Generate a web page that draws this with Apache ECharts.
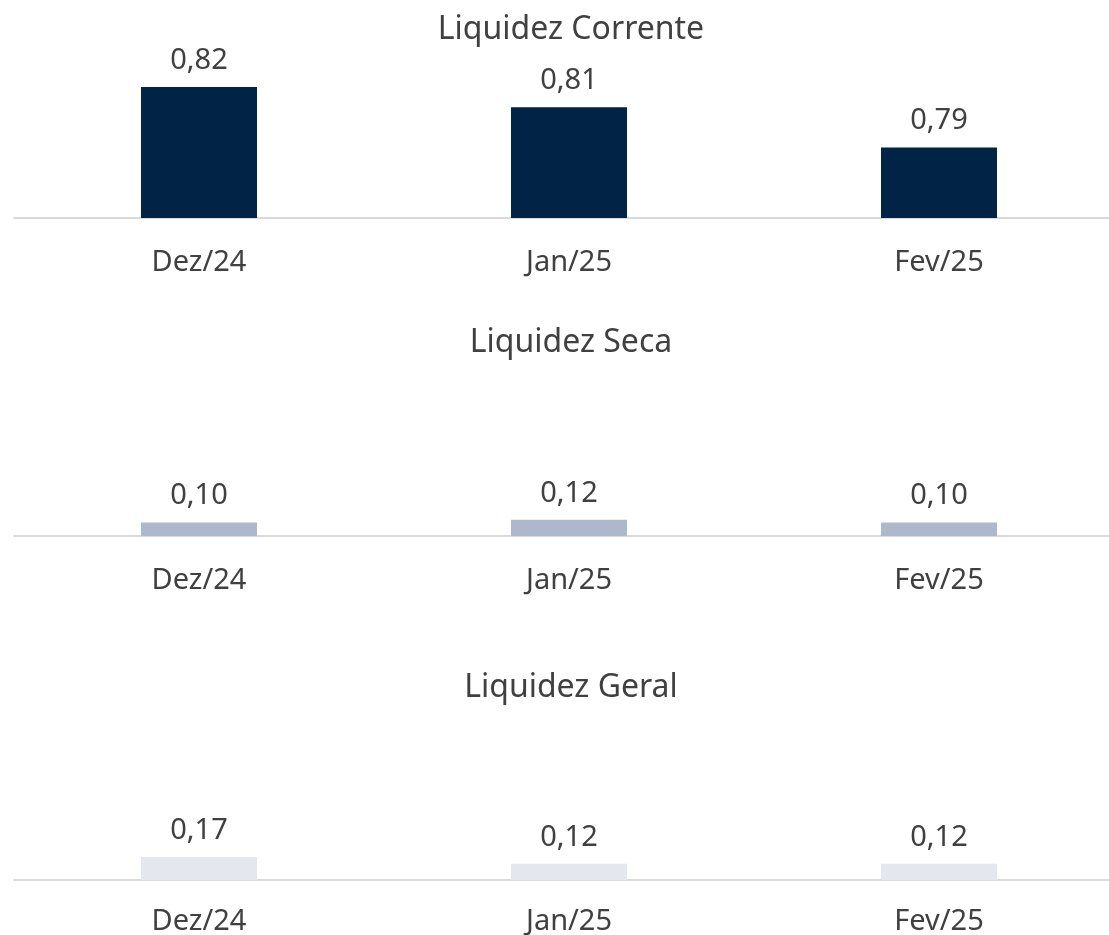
<!DOCTYPE html>
<html>
<head>
<meta charset="utf-8">
<script src="https://cdn.jsdelivr.net/npm/echarts@6/dist/echarts.min.js"></script>
<style>
  html, body { margin: 0; padding: 0; background: #fff; overflow: hidden; }
  #chart { width: 1109px; height: 935px; }
</style>
</head>
<body>
<div id="chart"></div>
<script>
const categories = ['Dez/24', 'Jan/25', 'Fev/25'];
const titles = ['Liquidez Corrente', 'Liquidez Seca', 'Liquidez Geral'];
const liquidezCorrente = [0.82, 0.81, 0.79];
const liquidezSeca = [0.10, 0.12, 0.10];
const liquidezGeral = [0.17, 0.12, 0.12];
const colors = ['#002346', '#ADB9CA', '#E4E8EE'];

const font = '"Noto Sans", sans-serif';
const textColor = '#404040';

const chartDom = document.getElementById('chart');
const myChart = echarts.init(chartDom);

// each panel: grid top / height, y range
const panels = [
  { top: 87, height: 131, min: 0.755, max: 0.82, data: liquidezCorrente, titleTop: 9, margin: 30 },
  { top: 401, height: 135, min: 0, max: 1, data: liquidezSeca, titleTop: 322, margin: 30 },
  { top: 745, height: 135, min: 0, max: 1, data: liquidezGeral, titleTop: 667, margin: 27 }
];

const option = {
  animation: false,
  title: panels.map((p, i) => ({
    text: titles[i],
    left: 566,
    textAlign: 'center',
    top: p.titleTop,
    textStyle: { fontFamily: font, fontSize: 32, fontWeight: 'normal', color: textColor }
  })),
  grid: panels.map(p => ({
    left: 14, width: 1110, top: p.top, height: p.height,
    outerBoundsMode: 'none'
  })),
  xAxis: panels.map((p, i) => ({
    type: 'category',
    gridIndex: i,
    data: categories,
    axisTick: { show: false },
    axisLine: { lineStyle: { color: '#D9D9D9', width: 2 } },
    axisLabel: { margin: p.margin, fontFamily: font, fontSize: 29, color: textColor }
  })),
  yAxis: panels.map((p, i) => ({
    type: 'value',
    gridIndex: i,
    min: p.min,
    max: p.max,
    show: false
  })),
  series: panels.map((p, i) => ({
    type: 'bar',
    xAxisIndex: i,
    yAxisIndex: i,
    data: p.data,
    barWidth: 116,
    itemStyle: { color: colors[i] },
    label: {
      show: true,
      position: 'top',
      distance: 12,
      fontFamily: font,
      fontSize: 29,
      color: textColor,
      formatter: params => params.value.toFixed(2).replace('.', ',')
    }
  }))
};

myChart.setOption(option);
</script>
</body>
</html>
